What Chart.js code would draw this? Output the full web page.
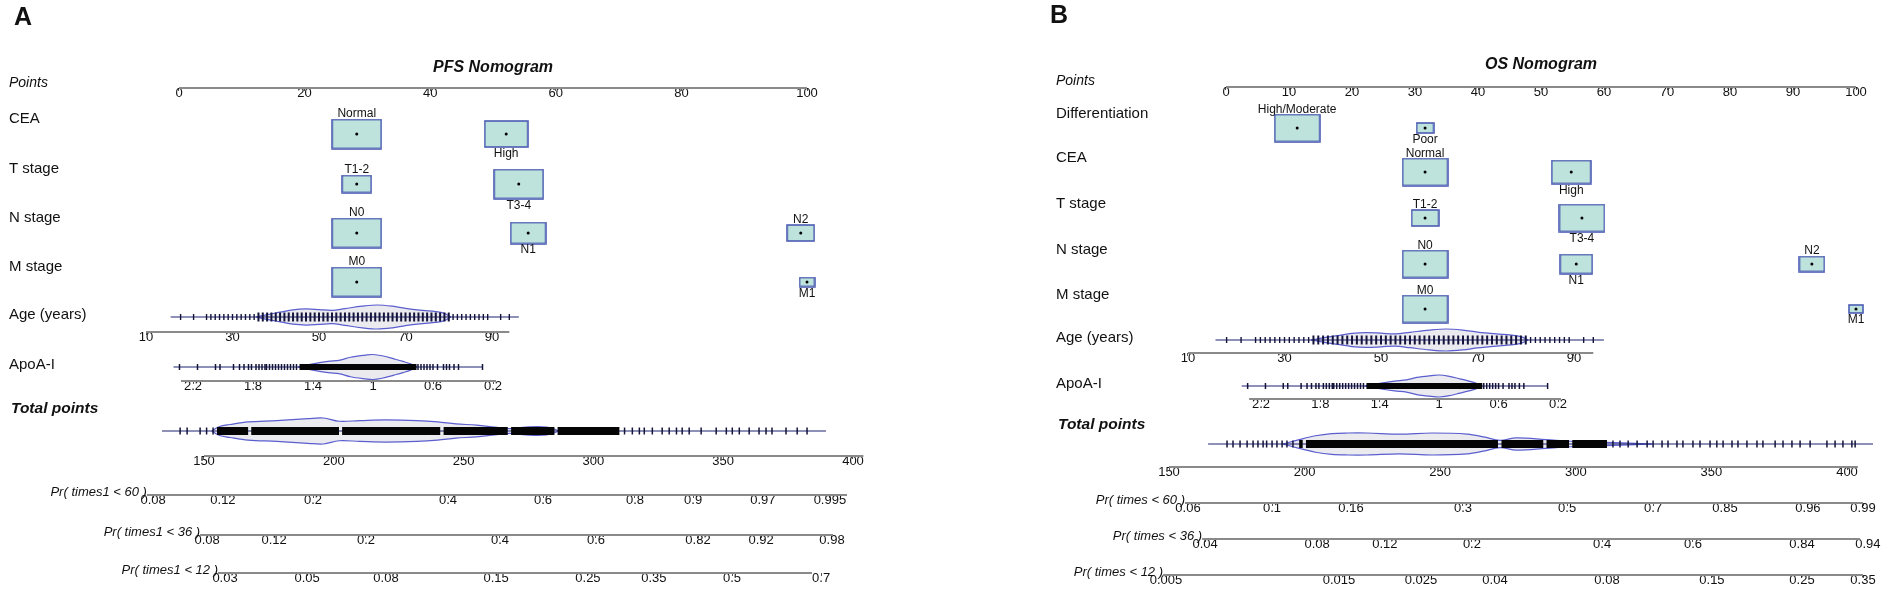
<!DOCTYPE html>
<html>
<head>
<meta charset="utf-8">
<title>PFS and OS nomograms</title>
<script src="https://cdn.jsdelivr.net/npm/chart.js@4.4.1/dist/chart.umd.min.js"></script>
<style>
  html, body { margin: 0; padding: 0; background: #fff; }
  #wrap { position: relative; width: 1890px; height: 594px; overflow: hidden; }
  #wrap canvas { position: absolute; top: 0; }
</style>
</head>
<body>
<div id="wrap">
  <canvas id="pfs" width="945" height="594" style="left:0"></canvas>
  <canvas id="os" width="945" height="594" style="left:945px"></canvas>
</div>
<script>
// categorical rows
var pfsVars = ['CEA', 'T stage', 'N stage', 'M stage'];
var pfsLevels = [['Normal', 'High'], ['T1-2', 'T3-4'], ['N0', 'N1', 'N2'], ['M0', 'M1']];
var pfsLevelPoints = [[28.3, 52.1], [28.3, 54.1], [28.3, 55.6, 99], [28.3, 100]];
var osVars = ['Differentiation', 'CEA', 'T stage', 'N stage', 'M stage'];
var osLevels = [['High/Moderate', 'Poor'], ['Normal', 'High'], ['T1-2', 'T3-4'], ['N0', 'N1', 'N2'], ['M0', 'M1']];
var osLevelPoints = [[11.3, 31.6], [31.6, 54.8], [31.6, 56.5], [31.6, 55.6, 93], [31.6, 100]];

// share of patients in each level (box area)
var diffShare = [87.5, 12.5];
var ceaShare = [57, 43];
var tShare = [26, 74];
var nShare = [55, 28, 17];
var mShare = [91, 9];

var pfsPointTicks = [0, 20, 40, 60, 80, 100];
var osPointTicks = [0, 10, 20, 30, 40, 50, 60, 70, 80, 90, 100];

// age
var ageTicks = [10, 30, 50, 70, 90];
var ageAxisSpan = [10, 94];
var ageRange = [15.7, 96.2];
var ageObserved = [18, 21, 24, 25, 26, 27, 28, 29, 30, 31, 32, 33, 34, 35, 36, 37, 38, 39, 40, 41, 42, 43,
  44, 45, 46, 47, 48, 49, 50, 51, 52, 53, 54, 55, 56, 57, 58, 59, 60, 61, 62, 63, 64, 65, 66, 67, 68, 69,
  70, 71, 72, 73, 74, 75, 76, 77, 78, 79, 80, 81, 82, 83, 84, 85, 86, 87, 88, 89, 92, 94];
var ageDenseSpan = [36, 80];
var ageViolinAt = [35.5, 38, 41, 44, 47, 50, 53, 56, 60, 63.5, 67, 70, 74, 77, 79, 80.5];
var ageViolinDensity = [0, 0.2, 0.4, 0.6, 0.67, 0.62, 0.55, 0.7, 0.9, 1, 0.9, 0.72, 0.55, 0.45, 0.3, 0];

// ApoA-I
var apoaTicks = [2.2, 1.8, 1.4, 1, 0.6, 0.2];
var apoaAxisSpan = [2.28, 0.18];
var apoaRange = [2.33, 0.27];
var apoaObserved = [2.29, 2.17, 2.05, 2.02, 1.93, 1.89, 1.86, 1.83, 1.81, 1.78, 1.76, 1.74, 1.72, 1.71,
  1.69, 1.67, 1.65, 1.63, 1.61, 1.59, 1.57, 1.55, 1.53, 1.51, 0.7, 0.68, 0.66, 0.64, 0.62, 0.6, 0.57,
  0.53, 0.51, 0.49, 0.46, 0.43, 0.27];
var apoaDenseSpan = [1.49, 0.71];
var apoaViolinAt = [1.5, 1.4, 1.3, 1.22, 1.15, 1.05, 1, 0.94, 0.86, 0.8, 0.75, 0.71];
var apoaViolinDensity = [0, 0.25, 0.45, 0.55, 0.78, 0.95, 1, 0.9, 0.65, 0.45, 0.25, 0];

// total points
var totalTicks = [150, 200, 250, 300, 350, 400];
var totalAxisSpan = [150, 404];
var pfsTotalRange = [133.8, 389.6];
var pfsTotalSparse = [140.8, 143.5, 148.5, 151, 153.5, 312, 315, 317.7, 319.6, 322.7, 326.5, 329.2, 332,
  334.2, 336.9, 341.5, 347.3, 351.2, 353.5, 356.2, 360, 363.8, 366.5, 368.8, 374.2, 378.5, 382.3];
var pfsTotalDense = [[155, 167], [168.2, 202], [203.2, 241], [242.3, 267], [268.3, 285], [286.2, 310]];
var pfsTotalViolinAt = [153, 156, 160, 167, 178, 190, 196, 202, 210, 220, 232, 240, 247, 255, 262, 268, 274, 282, 287];
var pfsTotalViolinDensity = [0, 0.35, 0.5, 0.7, 0.8, 0.95, 1, 0.75, 0.8, 0.85, 0.8, 0.7, 0.55, 0.45, 0.3, 0.18, 0.3, 0.3, 0];
var osTotalRange = [164.4, 409.6];
var osTotalSparse = [171.4, 173.6, 176.2, 178.8, 181, 182.8, 184.7, 186, 188, 189.8, 191.7, 193.5, 195.7,
  313.7, 316.3, 319.3, 322.6, 326.3, 328.5, 331.8, 334, 337.3, 339.5, 343.2, 345.8, 349.5, 352, 354.3,
  357.6, 359.8, 363.1, 366.8, 369, 373.5, 376.4, 379.7, 382.7, 386.4, 392.6, 395.6, 398.5, 401.8, 403];
var osTotalDense = [[198, 199.3], [200.5, 271.3], [272.6, 288], [289.2, 297.5], [298.7, 311.5]];
var osTotalViolinAt = [192, 198, 204, 210, 216, 223, 235, 247, 260, 266, 272, 278, 289, 298, 311, 328];
var osTotalViolinDensity = [0, 0.4, 0.75, 0.95, 1, 1, 0.9, 1, 0.9, 0.65, 0.33, 0.55, 0.4, 0.25, 0.15, 0];

// probability axes, tick positions in total points
var pfsPrTitles = ['Pr( times1 < 60 )', 'Pr( times1 < 36 )', 'Pr( times1 < 12 )'];
var pfsPrAt = [
  [130.4, 157.3, 192, 244, 280.6, 316, 338.4, 365.3, 391.1],
  [151.2, 177, 212.4, 264, 301, 340.3, 364.6, 391.9],
  [158.1, 189.7, 220.1, 262.5, 297.9, 323.3, 353.4, 387.7]];
var pfsPrLabels = [
  ['0.08', '0.12', '0.2', '0.4', '0.6', '0.8', '0.9', '0.97', '0.995'],
  ['0.08', '0.12', '0.2', '0.4', '0.6', '0.82', '0.92', '0.98'],
  ['0.03', '0.05', '0.08', '0.15', '0.25', '0.35', '0.5', '0.7']];
var pfsPrSpan = [[128, 397.7], [148.5, 392.3], [155.4, 384.2]];
var osPrTitles = ['Pr( times < 60 )', 'Pr( times < 36 )', 'Pr( times < 12 )'];
var osPrAt = [
  [157, 188, 217.1, 258.4, 296.8, 328.5, 355, 385.6, 405.9],
  [163.3, 204.6, 229.6, 261.7, 309.7, 343.2, 383.4, 407.7],
  [148.9, 212.7, 242.9, 270.2, 311.5, 350.2, 383.4, 405.9]];
var osPrLabels = [
  ['0.06', '0.1', '0.16', '0.3', '0.5', '0.7', '0.85', '0.96', '0.99'],
  ['0.04', '0.08', '0.12', '0.2', '0.4', '0.6', '0.84', '0.94'],
  ['0.005', '0.015', '0.025', '0.04', '0.08', '0.15', '0.25', '0.35']];
var osPrSpan = [[155.9, 405.9], [162.2, 404.8], [147.8, 405.9]];

// ---- layout (pixel anchors inside each 945 x 594 canvas) ----
var W = 945, H = 594;
var FONT = '"Liberation Sans", Arial, Helvetica, sans-serif';
var AXIS = '#8a8a8a', NAVY = '#1f2370', VIOLIN = '#5b5ecf', VFILL = 'rgba(196,196,210,0.35)';
var BOXFILL = '#bde3dc', BOXEDGE = '#4b5cb3';

var layoutPFS = {
  anchors: { points: [0, 179, 100, 807], age: [10, 146, 90, 492], apoa: [2.2, 193, 0.2, 493], total: [150, 204, 400, 853] },
  rows: { letter: 25, title: 68, pointsLabel: 83, pointsAxis: 88, cat: [134, 184, 233, 282], catLabelDy: -15,
    age: 317, ageAxis: 332, apoa: 367, apoaAxis: 381, totalLabel: 409, total: 431, totalAxis: 456, pr: [495, 535, 573] },
  labelX: 9, letterX: 14, boxW: 49, ageH: 12, apoaH: 12.5, totalH: 13
};
var layoutOS = {
  anchors: { points: [0, 281, 100, 911], age: [10, 243, 90, 629], apoa: [2.2, 316, 0.2, 613], total: [150, 224, 400, 902] },
  rows: { letter: 23, title: 65, pointsLabel: 81, pointsAxis: 87, cat: [128, 172, 218, 264, 309], catLabelDy: -14,
    age: 340, ageAxis: 353, apoa: 386, apoaAxis: 399, totalLabel: 425, total: 444, totalAxis: 467, pr: [503, 539, 575] },
  labelX: 111, letterX: 105, boxW: 45, ageH: 11, apoaH: 11, totalH: 11
};

Chart.defaults.font.family = FONT;

function xScale(anchor, rowY, ticks, labels) {
  var k = (anchor[2] - anchor[0]) / (anchor[3] - anchor[1]);
  var atLeft = anchor[0] - anchor[1] * k;
  var atRight = anchor[0] + (W - anchor[1]) * k;
  return {
    type: 'linear', axis: 'x', bounds: 'data',
    position: { y: rowY },
    min: Math.min(atLeft, atRight), max: Math.max(atLeft, atRight),
    reverse: k < 0,
    border: { display: false },
    grid: { display: true, drawOnChartArea: false, drawTicks: true, tickLength: 3, color: '#555', lineWidth: 1 },
    ticks: {
      autoSkip: false, maxRotation: 0, minRotation: 0, padding: -5,
      color: '#111', font: { family: FONT, size: 13 },
      callback: function (v, i) { return labels ? labels[i] : String(v); }
    },
    afterBuildTicks: function (s) { s.ticks = ticks.map(function (t) { return { value: t }; }); }
  };
}

function pts(values, y) { return values.map(function (v) { return { x: v, y: y }; }); }

function line(data, axis, color, width, order, extra) {
  var d = { type: 'line', data: data, xAxisID: axis, yAxisID: 'y', borderColor: color, borderWidth: width,
    pointRadius: 0, fill: false, tension: 0, order: order, borderCapStyle: 'butt', spanGaps: false };
  for (var k in extra) d[k] = extra[k];
  return d;
}

function boxSize(shares, j, maxW) {
  var w = maxW * Math.sqrt(shares[j] / Math.max.apply(null, shares));
  return [w, w * 0.6];
}

function boxImage(w, h) {
  var c = document.createElement('canvas');
  c.width = Math.round(w) + 2; c.height = Math.round(h) + 2;
  var g = c.getContext('2d');
  g.fillStyle = BOXFILL; g.fillRect(1, 1, c.width - 2, c.height - 2);
  g.strokeStyle = BOXEDGE; g.lineWidth = 1.6; g.strokeRect(1, 1, c.width - 2, c.height - 2);
  return c;
}

function textLayer(L, s) {
  return {
    id: 'nomoText',
    afterDraw: function (chart) {
      var ctx = chart.ctx, xs = chart.scales.x, ys = chart.scales.y, R = L.rows;
      var py = function (v) { return ys.getPixelForValue(v); };
      ctx.save();
      ctx.fillStyle = '#111';
      ctx.textAlign = 'left'; ctx.textBaseline = 'alphabetic';
      ctx.font = 'bold 25px ' + FONT;
      ctx.fillText(s.letter, L.letterX, py(R.letter));
      ctx.textAlign = 'center'; ctx.textBaseline = 'middle';
      ctx.font = 'italic bold 16px ' + FONT;
      ctx.fillText(s.title, xs.getPixelForValue(50), py(R.title));
      ctx.textAlign = 'left';
      ctx.font = 'italic 14px ' + FONT;
      ctx.fillText('Points', L.labelX, py(R.pointsLabel));
      ctx.font = '15px ' + FONT;
      s.vars.forEach(function (name, i) { ctx.fillText(name, L.labelX, py(R.cat[i] + R.catLabelDy)); });
      ctx.fillText('Age (years)', L.labelX, py(R.age - 2));
      ctx.fillText('ApoA-I', L.labelX, py(R.apoa - 2));
      ctx.font = 'italic bold 15.5px ' + FONT;
      ctx.fillText('Total points', L.labelX + 2, py(R.totalLabel));
      // level names above / below their boxes
      ctx.font = '12px ' + FONT; ctx.textAlign = 'center'; ctx.textBaseline = 'alphabetic';
      s.levels.forEach(function (lv, i) {
        lv.forEach(function (name, j) {
          var sz = boxSize(s.shares[i], j, L.boxW);
          var x = xs.getPixelForValue(s.levelPoints[i][j]), y = py(R.cat[i]);
          if (j % 2 === 0) ctx.fillText(name, x, y - sz[1] / 2 - 2);
          else ctx.fillText(name, x, y + sz[1] / 2 + 10);
        });
      });
      // probability axis titles
      ctx.font = 'italic 13px ' + FONT; ctx.textAlign = 'right'; ctx.textBaseline = 'middle';
      s.prTitles.forEach(function (t, k) {
        var sc = chart.scales['xPr' + k];
        ctx.fillText(t, sc.getPixelForValue(s.prSpan[k][0]), py(R.pr[k] - 3));
      });
      ctx.restore();
    }
  };
}

function buildPanel(id, L, s) {
  var R = L.rows, ds = [];
  function violin(at, dens, row, h, axis) {
    ds.push(line(at.map(function (v, i) { return { x: v, y: row - dens[i] * h }; }), axis, VIOLIN, 1.2, 6, { tension: 0.35 }));
    ds.push(line(at.map(function (v, i) { return { x: v, y: row + dens[i] * h }; }), axis, VIOLIN, 1.2, 6,
      { tension: 0.35, fill: '-1', backgroundColor: VFILL }));
  }
  violin(ageViolinAt, ageViolinDensity, R.age, L.ageH, 'xAge');
  violin(apoaViolinAt, apoaViolinDensity, R.apoa, L.apoaH, 'xApoa');
  violin(s.totalViolinAt, s.totalViolinDensity, R.total, L.totalH, 'xTot');

  // axis lines
  ds.push(line(pts([0, 100], R.pointsAxis), 'x', AXIS, 2, 5));
  ds.push(line(pts(ageAxisSpan, R.ageAxis), 'xAge', AXIS, 2, 5));
  ds.push(line(pts(apoaAxisSpan, R.apoaAxis), 'xApoa', AXIS, 2, 5));
  ds.push(line(pts(totalAxisSpan, R.totalAxis), 'xTot', AXIS, 2, 5));
  s.prSpan.forEach(function (sp, k) { ds.push(line(pts(sp, R.pr[k]), 'xPr' + k, AXIS, 2, 5)); });

  // distribution baselines
  ds.push(line(pts(ageRange, R.age), 'xAge', NAVY, 1.2, 4));
  ds.push(line(pts(apoaRange, R.apoa), 'xApoa', NAVY, 1.2, 4));
  ds.push(line(pts(s.totalRange, R.total), 'xTot', NAVY, 1.2, 4));

  // dense parts
  ds.push(line(pts(apoaDenseSpan, R.apoa), 'xApoa', '#050505', 6, 3));
  var seg = [];
  s.totalDense.forEach(function (d) { seg.push({ x: d[0], y: R.total }, { x: d[1], y: R.total }, { x: d[1], y: null }); });
  ds.push(line(seg, 'xTot', '#050505', 8, 3));

  // spikes
  function spikes(values, row, axis, r, wd) {
    ds.push({ type: 'scatter', data: pts(values, row), xAxisID: axis, yAxisID: 'y', order: 2,
      pointStyle: 'line', pointRotation: 90, pointBorderColor: '#14143a', pointBackgroundColor: '#14143a',
      pointRadius: r, pointBorderWidth: wd });
  }
  var inAgeDense = function (c) { return c.raw.x >= ageDenseSpan[0] && c.raw.x <= ageDenseSpan[1]; };
  spikes(ageObserved, R.age, 'xAge', function (c) { return inAgeDense(c) ? 4.5 : 3; },
    function (c) { return inAgeDense(c) ? 2 : 1.4; });
  spikes(apoaObserved, R.apoa, 'xApoa', 3, 1.5);
  spikes(s.totalSparse, R.total, 'xTot', 3.5, 1.5);

  // category boxes and their centre dots
  var boxData = [], imgs = [];
  s.levels.forEach(function (lv, i) {
    lv.forEach(function (name, j) {
      var sz = boxSize(s.shares[i], j, L.boxW);
      boxData.push({ x: s.levelPoints[i][j], y: R.cat[i] });
      imgs.push(boxImage(sz[0], sz[1]));
    });
  });
  ds.push({ type: 'scatter', data: boxData, xAxisID: 'x', yAxisID: 'y', order: 1,
    pointStyle: function (c) { return imgs[c.dataIndex]; }, pointRadius: 10 });
  ds.push({ type: 'scatter', data: boxData, xAxisID: 'x', yAxisID: 'y', order: 0,
    pointStyle: 'circle', pointRadius: 1.5, pointBorderWidth: 0, pointBackgroundColor: '#000' });

  var scales = {
    y: { type: 'linear', min: 0, max: H, reverse: true, display: false },
    x: xScale(L.anchors.points, R.pointsAxis, s.pointTicks),
    xAge: xScale(L.anchors.age, R.ageAxis, ageTicks),
    xApoa: xScale(L.anchors.apoa, R.apoaAxis, apoaTicks),
    xTot: xScale(L.anchors.total, R.totalAxis, totalTicks)
  };
  s.prAt.forEach(function (at, k) { scales['xPr' + k] = xScale(L.anchors.total, R.pr[k], at, s.prLabels[k]); });

  return new Chart(document.getElementById(id).getContext('2d'), {
    type: 'scatter',
    data: { datasets: ds },
    options: {
      responsive: false, animation: false, events: [],
      layout: { padding: 0, autoPadding: false },
      plugins: { legend: { display: false }, tooltip: { enabled: false } },
      scales: scales
    },
    plugins: [textLayer(L, s)]
  });
}

buildPanel('pfs', layoutPFS, {
  letter: 'A', title: 'PFS Nomogram', vars: pfsVars, levels: pfsLevels, levelPoints: pfsLevelPoints,
  shares: [ceaShare, tShare, nShare, mShare], pointTicks: pfsPointTicks,
  totalRange: pfsTotalRange, totalSparse: pfsTotalSparse, totalDense: pfsTotalDense,
  totalViolinAt: pfsTotalViolinAt, totalViolinDensity: pfsTotalViolinDensity,
  prTitles: pfsPrTitles, prAt: pfsPrAt, prLabels: pfsPrLabels, prSpan: pfsPrSpan
});
buildPanel('os', layoutOS, {
  letter: 'B', title: 'OS Nomogram', vars: osVars, levels: osLevels, levelPoints: osLevelPoints,
  shares: [diffShare, ceaShare, tShare, nShare, mShare], pointTicks: osPointTicks,
  totalRange: osTotalRange, totalSparse: osTotalSparse, totalDense: osTotalDense,
  totalViolinAt: osTotalViolinAt, totalViolinDensity: osTotalViolinDensity,
  prTitles: osPrTitles, prAt: osPrAt, prLabels: osPrLabels, prSpan: osPrSpan
});
</script>
</body>
</html>
